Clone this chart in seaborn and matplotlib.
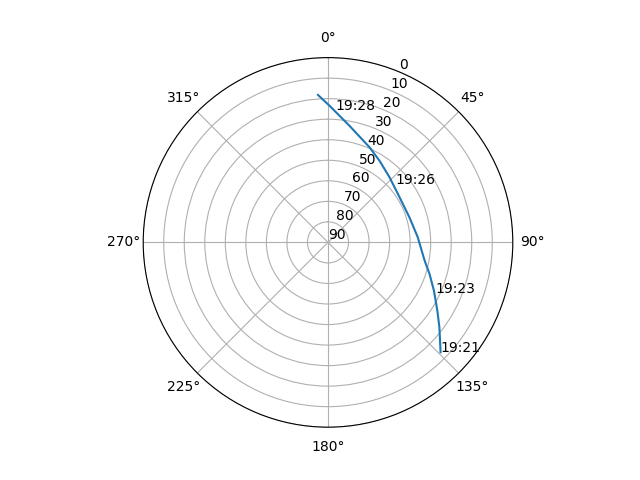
import numpy as np
import pandas as pd
import seaborn as sns
import matplotlib
matplotlib.use("Agg")
import matplotlib.pyplot as plt

# satellite pass: azimuth (deg) and elevation (deg)
azimuth = [134.3, 127.3, 122.0, 114.5, 107.3, 100.7, 86.8, 73.0, 57.9,
           43.5, 32.3, 23.7, 10.5, 0.7, -3.9]
elevation = [13.4, 21.8, 27.2, 33.3, 38.2, 42.1, 46.2, 48.5, 48.8,
             46.4, 43.0, 39.5, 32.3, 23.5, 18.0]

# time marks along the track
label_times = ["19:21", "19:23", "19:26", "19:28"]
label_az = [134.3, 115.3, 49.2, 3.3]
label_el = [13.4, 32.0, 46.5, 25.3]

df = pd.DataFrame({"theta": np.deg2rad(azimuth), "el": elevation})

fig = plt.figure(figsize=(6.4, 4.8), dpi=100)
ax = fig.add_subplot(111, projection="polar")
ax.set_theta_zero_location("N")
ax.set_theta_direction(-1)

sns.lineplot(data=df, x="theta", y="el", sort=False, ax=ax)

for t, a, e in zip(label_times, label_az, label_el):
    ax.text(np.deg2rad(a), e, t)

ax.set_ylim(90, 0)
ax.set_yticks(range(0, 91, 10))
ax.set_xlabel("")
ax.set_ylabel("")

plt.savefig("out.png")
